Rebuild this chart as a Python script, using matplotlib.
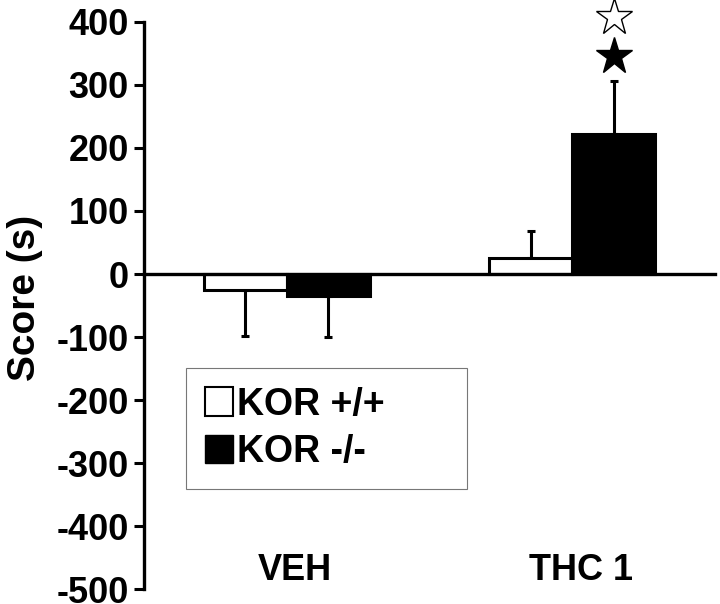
import matplotlib
matplotlib.use('Agg')
import matplotlib.pyplot as plt
from matplotlib.patches import Patch

plt.rcParams['font.family'] = ['Liberation Sans', 'DejaVu Sans']
plt.rcParams['font.weight'] = 'bold'
plt.rcParams['axes.unicode_minus'] = False

# data
groups = ['VEH', 'THC 1']
series = ['KOR +/+', 'KOR -/-']
kor_wt = [-25, 25]
kor_ko = [-35, 222]
sem_wt = [73, 43]
sem_ko = [65, 84]
star_filled = 346   # above THC 1 / KOR -/-
star_open = 408

def one_sided(vals, errs):
    low = [e if v < 0 else 0 for v, e in zip(vals, errs)]
    high = [e if v >= 0 else 0 for v, e in zip(vals, errs)]
    return [low, high]

fig = plt.figure(figsize=(7.2, 6.04), dpi=100)
ax = fig.add_axes([0.2, 0.0248, 0.793, 0.9388])

w = 0.29
x = list(range(len(groups)))
x_wt = [i - w / 2 for i in x]
x_ko = [i + w / 2 for i in x]

ax.bar(x_wt, kor_wt, width=w, color='white', edgecolor='black', linewidth=2.2, zorder=3)
ax.bar(x_ko, kor_ko, width=w, color='black', edgecolor='black', linewidth=2.2, zorder=3)
ax.errorbar(x_wt, kor_wt, yerr=one_sided(kor_wt, sem_wt), fmt='none', ecolor='black',
            elinewidth=2.2, capsize=3, capthick=2.2, zorder=2)
ax.errorbar(x_ko, kor_ko, yerr=one_sided(kor_ko, sem_ko), fmt='none', ecolor='black',
            elinewidth=2.2, capsize=3, capthick=2.2, zorder=2)

# significance stars
ax.plot(x_ko[1], star_filled, marker='*', markersize=28, color='black', clip_on=False)
ax.plot(x_ko[1], star_open, marker='*', markersize=28, markerfacecolor='white',
        markeredgecolor='black', markeredgewidth=1, clip_on=False)

ax.set_xlim(-0.5, 1.5)
ax.set_ylim(-500, 400)
ax.set_yticks(range(-500, 401, 100))
ax.tick_params(axis='y', labelsize=26, width=2.2, length=7, pad=4)
for lab in ax.get_yticklabels():
    lab.set_fontweight('bold')
ax.set_xticks([])

for side in ['top', 'right']:
    ax.spines[side].set_visible(False)
ax.spines['left'].set_linewidth(2.4)
ax.spines['bottom'].set_position(('data', 0))
ax.spines['bottom'].set_linewidth(2.4)
ax.spines['bottom'].set_zorder(4)

for i, g in enumerate(groups):
    ax.text(i + 0.03, -470, g, ha='center', va='center', fontsize=26, fontweight='bold')

ax.set_ylabel('Score (s)', fontsize=28, fontweight='bold')
ax.yaxis.set_label_coords(-0.177, 0.513)

handles = [Patch(facecolor='white', edgecolor='black', linewidth=1.5),
           Patch(facecolor='black', edgecolor='black')]
leg = ax.legend(handles, series, loc='upper left',
                bbox_to_anchor=(0.0736, 0.18, 0.4922, 0.21), mode='expand',
                fancybox=False, edgecolor='#777777', framealpha=1,
                prop={'size': 27, 'weight': 'bold'}, handlelength=0.75, handleheight=0.8,
                handletextpad=0.1, labelspacing=0.3, borderpad=0.5, borderaxespad=0)
leg.get_frame().set_linewidth(0.8)

fig.savefig('out.png', dpi=100)
